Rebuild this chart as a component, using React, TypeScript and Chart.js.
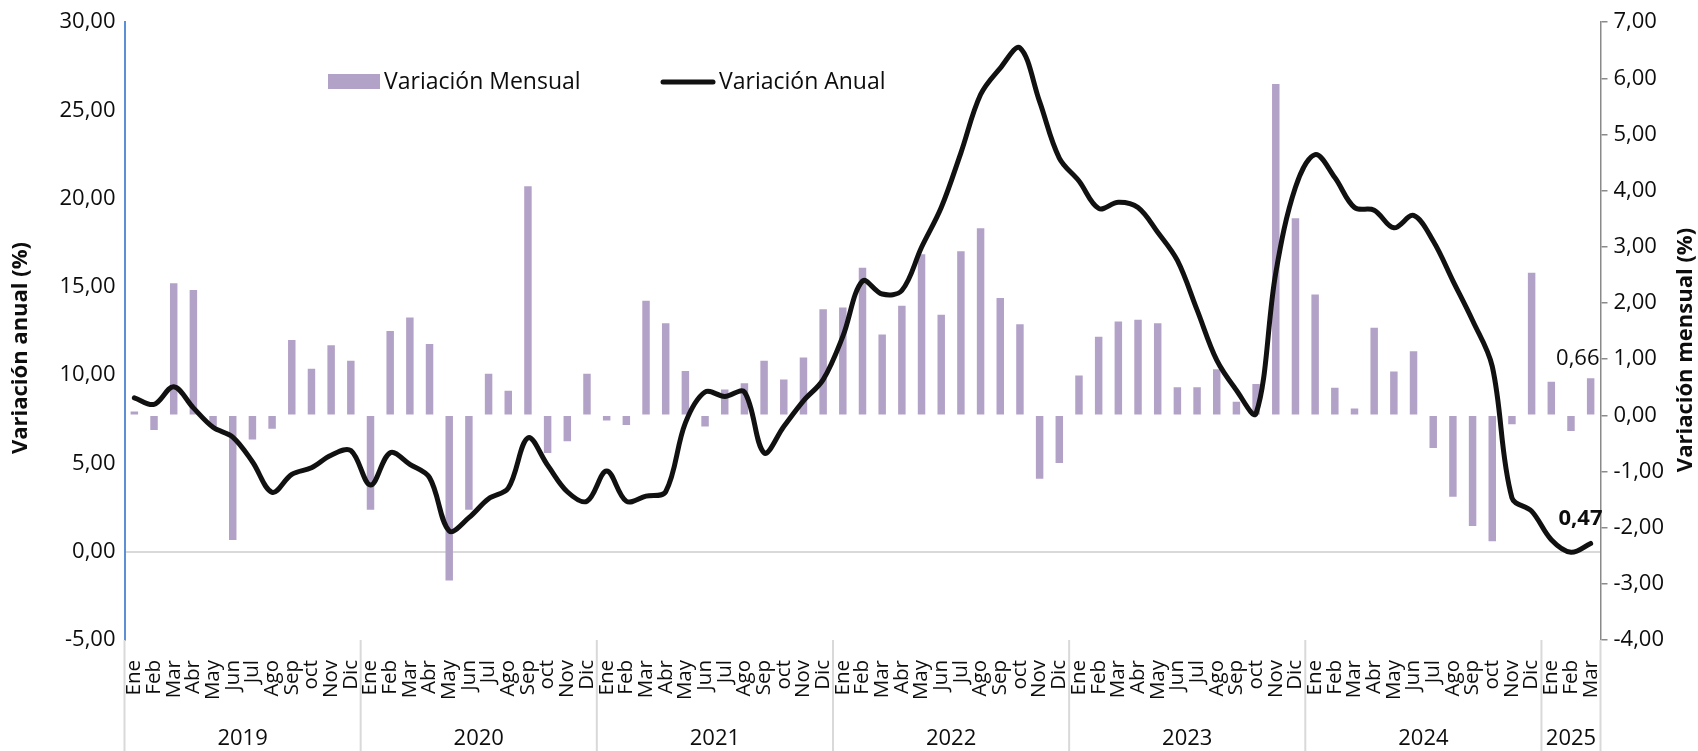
import React, { useEffect, useRef } from 'react';
import { Chart, registerables } from 'chart.js';

Chart.register(...registerables);

const MONTH_NAMES = ['Ene', 'Feb', 'Mar', 'Abr', 'May', 'Jun', 'Jul', 'Ago', 'Sep', 'oct', 'Nov', 'Dic'];
const YEARS = ['2019', '2020', '2021', '2022', '2023', '2024', '2025'];
const MONTHS_IN_YEAR = [12, 12, 12, 12, 12, 12, 3];

// Variación mensual (%), eje derecho
const variacionMensual = [
  0.07, -0.26, 2.35, 2.23, -0.2, -2.22, -0.43, -0.24, 1.34, 0.83, 1.25, 0.97,
  -1.68, 1.5, 1.74, 1.27, -2.94, -1.68, 0.74, 0.44, 4.08, -0.67, -0.46, 0.74,
  -0.09, -0.17, 2.04, 1.64, 0.79, -0.2, 0.46, 0.57, 0.97, 0.64, 1.03, 1.89,
  1.92, 2.63, 1.44, 1.95, 2.87, 1.79, 2.92, 3.33, 2.09, 1.62, -1.13, -0.85,
  0.71, 1.4, 1.67, 1.7, 1.64, 0.5, 0.5, 0.82, 0.24, 0.56, 5.9, 3.51,
  2.15, 0.49, 0.12, 1.56, 0.78, 1.14, -0.58, -1.45, -1.97, -2.24, -0.16, 2.54,
  0.6, -0.28, 0.66,
];

// Variación anual (%), eje izquierdo
const variacionAnual = [
  8.72, 8.35, 9.35, 8.15, 7.05, 6.5, 5.1, 3.37, 4.38, 4.76, 5.47, 5.73,
  3.78, 5.61, 4.95, 4.2, 1.18, 1.93, 3.0, 3.6, 6.45, 4.9, 3.4, 2.86,
  4.57, 2.86, 3.15, 3.4, 7.3, 9.05, 8.8, 9.05, 5.6, 7.1, 8.55, 9.75,
  12.2, 15.34, 14.6, 14.8, 17.25, 19.5, 22.6, 25.9, 27.4, 28.55, 25.5, 22.3,
  21.0, 19.45, 19.8, 19.5, 18.1, 16.5, 13.7, 10.85, 9.15, 7.84, 15.8, 20.65,
  22.5, 21.2, 19.5, 19.35, 18.35, 19.05, 17.6, 15.35, 13.1, 10.5, 3.05, 2.3,
  0.68, -0.03, 0.47,
];

const monthLabels: string[] = YEARS.flatMap((_, k) => MONTH_NAMES.slice(0, MONTHS_IN_YEAR[k]));

const LEFT_AXIS = { min: -5, max: 30, step: 5 };
const RIGHT_AXIS = { min: -4, max: 7, step: 1 };

const SERIES_NAMES = ['Variación Mensual', 'Variación Anual'];
const AXIS_TITLES = ['Variación anual (%)', 'Variación mensual (%)'];

const FONT = '"Open Sans", "Noto Sans", sans-serif';
const BAR_COLOR = '#B3A2C7';
const LINE_COLOR = '#111111';
const TEXT_COLOR = '#0d0d0d';

const fmt = (v: number) => v.toFixed(2).replace('.', ',');

const decorPlugin = {
  id: 'decor',
  afterDraw(chart: any) {
    const { ctx, chartArea, scales } = chart;
    const x = scales.x;
    const yA = scales.yA;
    const yM = scales.yM;
    ctx.save();

    // Year separators and labels
    const step = x.getPixelForValue(1) - x.getPixelForValue(0);
    ctx.strokeStyle = '#d9d9d9';
    ctx.lineWidth = 2;
    ctx.fillStyle = TEXT_COLOR;
    ctx.font = `22px ${FONT}`;
    ctx.textAlign = 'center';
    ctx.textBaseline = 'middle';
    const sep = (px: number) => {
      ctx.beginPath();
      ctx.moveTo(px, chartArea.bottom);
      ctx.lineTo(px, chart.height);
      ctx.stroke();
    };
    let idx = 0;
    YEARS.forEach((yr, k) => {
      const n = MONTHS_IN_YEAR[k];
      const start = x.getPixelForValue(idx) - step / 2;
      const end = x.getPixelForValue(idx + n - 1) + step / 2;
      sep(start);
      ctx.fillText(yr, (start + end) / 2, chart.height - 12);
      if (k === YEARS.length - 1) sep(end);
      idx += n;
    });

    // Legend
    ctx.textAlign = 'left';
    ctx.font = `23px ${FONT}`;
    ctx.fillStyle = BAR_COLOR;
    ctx.fillRect(328, 74, 52, 15);
    ctx.fillStyle = TEXT_COLOR;
    ctx.fillText(SERIES_NAMES[0], 384, 82);
    ctx.strokeStyle = LINE_COLOR;
    ctx.lineWidth = 5;
    ctx.lineCap = 'round';
    ctx.beginPath();
    ctx.moveTo(663, 82);
    ctx.lineTo(713, 82);
    ctx.stroke();
    ctx.fillText(SERIES_NAMES[1], 719, 82);

    // Axis titles
    ctx.font = `bold 22px ${FONT}`;
    ctx.textAlign = 'center';
    ctx.save();
    ctx.translate(21, 348);
    ctx.rotate(-Math.PI / 2);
    ctx.fillText(AXIS_TITLES[0], 0, 0);
    ctx.restore();
    ctx.save();
    ctx.translate(1686, 350);
    ctx.rotate(-Math.PI / 2);
    ctx.fillText(AXIS_TITLES[1], 0, 0);
    ctx.restore();

    // Data labels for last values
    const lastM = variacionMensual[variacionMensual.length - 1];
    const lastA = variacionAnual[variacionAnual.length - 1];
    ctx.textAlign = 'right';
    ctx.font = `22px ${FONT}`;
    ctx.fillText(fmt(lastM), chartArea.right - 1, yM.getPixelForValue(lastM) - 20);
    ctx.font = `bold 22px ${FONT}`;
    ctx.fillText(fmt(lastA), chartArea.right + 2, yA.getPixelForValue(lastA) - 25);

    ctx.restore();
  },
};

export default function App() {
  const canvasRef = useRef<HTMLCanvasElement>(null);

  useEffect(() => {
    document.body.style.margin = '0';
    const canvas = canvasRef.current;
    if (!canvas) return;
    const chart = new Chart(canvas, {
      type: 'bar',
      data: {
        labels: monthLabels,
        datasets: [
          {
            type: 'line',
            label: SERIES_NAMES[1],
            data: variacionAnual,
            yAxisID: 'yA',
            borderColor: LINE_COLOR,
            borderWidth: 5,
            pointRadius: 0,
            tension: 0.35,
            borderCapStyle: 'round',
            borderJoinStyle: 'round',
            order: 0,
          } as any,
          {
            type: 'bar',
            label: SERIES_NAMES[0],
            data: variacionMensual,
            yAxisID: 'yM',
            backgroundColor: BAR_COLOR,
            barPercentage: 0.38,
            categoryPercentage: 1,
            order: 1,
          },
        ],
      },
      options: {
        responsive: false,
        animation: false,
        layout: { padding: { top: 21.7, left: 0, right: 0, bottom: 0 } },
        plugins: {
          legend: { display: false },
          tooltip: { enabled: false },
        },
        scales: {
          x: {
            type: 'category',
            offset: true,
            grid: { display: false },
            border: { display: false },
            ticks: {
              autoSkip: false,
              maxRotation: 90,
              minRotation: 90,
              padding: 12,
              color: TEXT_COLOR,
              font: { family: FONT, size: 20.5 },
            },
            afterFit: (s: any) => {
              s.height = 111;
            },
          },
          yA: {
            type: 'linear',
            position: 'left',
            min: LEFT_AXIS.min,
            max: LEFT_AXIS.max,
            ticks: {
              stepSize: LEFT_AXIS.step,
              callback: (v: any) => fmt(Number(v)),
              color: TEXT_COLOR,
              padding: 9,
              font: { family: FONT, size: 22 },
            },
            grid: {
              drawTicks: false,
              lineWidth: 2,
              color: (c: any) => (c.tick && c.tick.value === 0 ? '#d9d9d9' : 'rgba(0,0,0,0)'),
            },
            border: { display: true, color: '#5b8fd6', width: 2 },
            afterFit: (s: any) => {
              s.width = 124.5;
            },
          },
          yM: {
            type: 'linear',
            position: 'right',
            min: RIGHT_AXIS.min,
            max: RIGHT_AXIS.max,
            ticks: {
              stepSize: RIGHT_AXIS.step,
              callback: (v: any) => fmt(Number(v)),
              color: TEXT_COLOR,
              padding: 6,
              font: { family: FONT, size: 22 },
            },
            grid: {
              drawOnChartArea: false,
              drawTicks: true,
              tickLength: 7,
              color: '#8a8a8a',
              lineWidth: 1.5,
            },
            border: { display: true, color: '#8a8a8a', width: 1.5 },
            afterFit: (s: any) => {
              s.width = 97.5;
            },
          },
        },
      },
      plugins: [decorPlugin],
    });
    return () => chart.destroy();
  }, []);

  return (
    <div style={{ width: 1698, height: 751, background: '#fff' }}>
      <canvas ref={canvasRef} width={1698} height={751} style={{ display: 'block' }} />
    </div>
  );
}
